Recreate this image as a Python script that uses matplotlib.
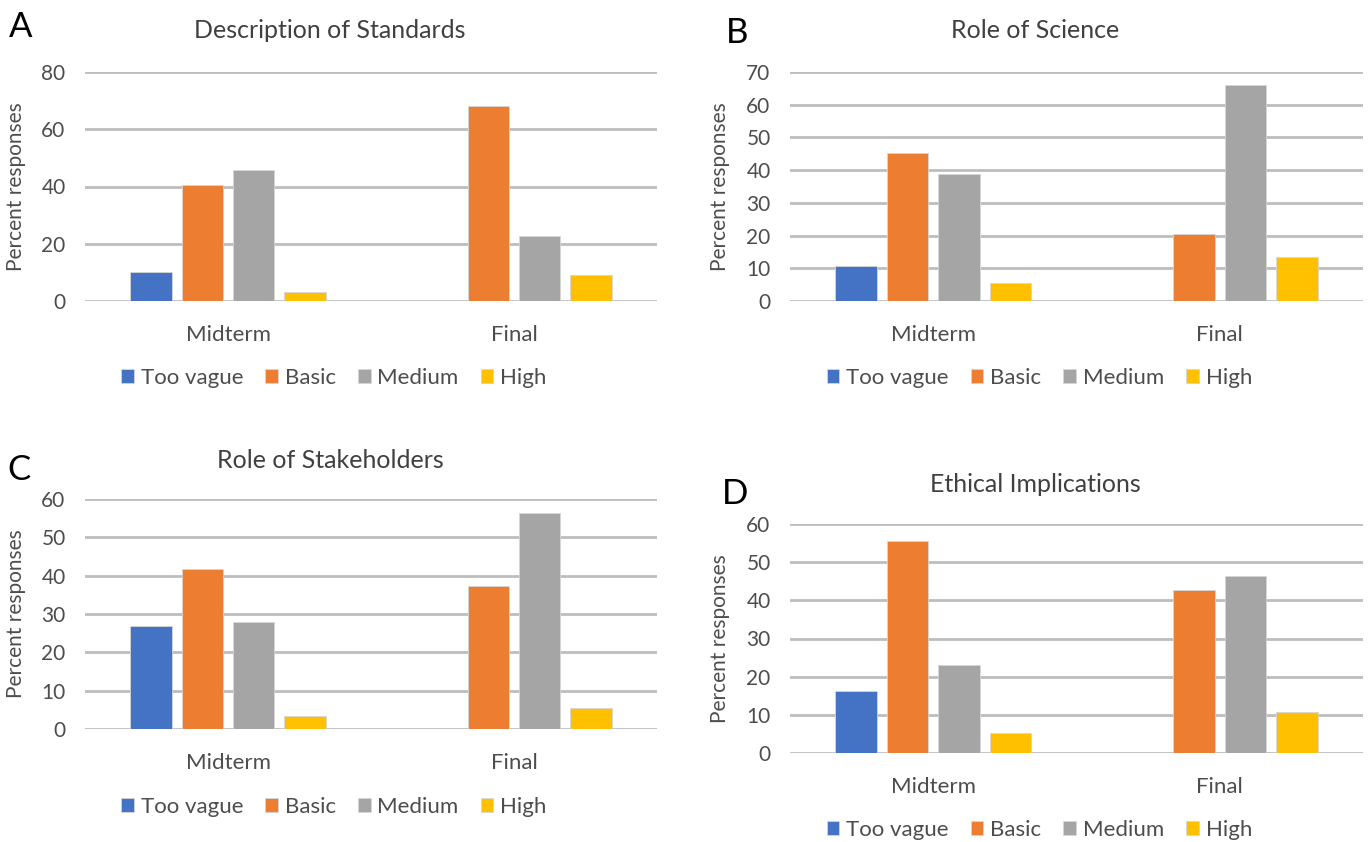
import matplotlib
matplotlib.use("Agg")
import matplotlib.pyplot as plt
import numpy as np

plt.rcParams['font.family'] = ['Lato', 'DejaVu Sans']

categories = ["Midterm", "Final"]
levels = ["Too vague", "Basic", "Medium", "High"]
colors = ["#4472C4", "#ED7D31", "#A5A5A5", "#FFC000"]

titles = ["Description of Standards", "Role of Science", "Role of Stakeholders", "Ethical Implications"]
letters = ["A", "B", "C", "D"]

# values per panel: rows = levels, columns = categories (Midterm, Final)
desc_standards = {"Too vague": [10.0, 0.0], "Basic": [40.5, 68.0], "Medium": [45.7, 22.6], "High": [3.2, 9.2]}
role_science = {"Too vague": [10.6, 0.0], "Basic": [45.2, 20.4], "Medium": [38.8, 66.1], "High": [5.4, 13.3]}
role_stakeholders = {"Too vague": [26.8, 0.0], "Basic": [41.8, 37.4], "Medium": [28.0, 56.3], "High": [3.5, 5.6]}
ethical = {"Too vague": [16.3, 0.0], "Basic": [55.6, 42.6], "Medium": [23.0, 46.5], "High": [5.2, 10.7]}

panels = [desc_standards, role_science, role_stakeholders, ethical]
ymax = [80, 70, 60, 60]
ystep = [20, 10, 10, 10]

W, H = 1372, 842
fig = plt.figure(figsize=(W / 100, H / 100), dpi=100)

def px_axes(x0, x1, ytop, ybot):
    return fig.add_axes([x0 / W, 1 - ybot / H, (x1 - x0) / W, (ybot - ytop) / H])

# axes boxes in pixel coords (x0, x1, ytop, ybot)
boxes = [(85, 657, 72, 301), (790, 1363, 72, 301), (85, 657, 499, 729), (790, 1363, 524, 753)]
title_pos = [(330, 30), (1035, 30), (330, 460), (1035, 484)]
letter_pos = [(21, 27), (737, 33), (19, 470), (735, 494)]
legend_y = [378, 378, 807, 830]

text_col = "#4d4d4d"
grid_col = "#bdbdbd"
bw = 0.145
step = 0.18
x = np.arange(len(categories))

for i, data in enumerate(panels):
    x0, x1, yt, yb = boxes[i]
    ax = px_axes(x0, x1, yt, yb)
    for j, lev in enumerate(levels):
        ax.bar(x + (j - 1.5) * step, data[lev], width=bw, color=colors[j],
               edgecolor="#d6d6d6", linewidth=0.6, label=lev, zorder=3)
    ax.set_xlim(-0.5, 1.5)
    ax.set_ylim(0, ymax[i])
    ax.set_yticks(np.arange(0, ymax[i] + 1, ystep[i]))
    ax.yaxis.grid(True, color=grid_col, linewidth=2.0, zorder=0)
    ax.set_axisbelow(True)
    for s in ["top", "right", "left", "bottom"]:
        ax.spines[s].set_visible(False)
    ax.set_xticks(x)
    ax.set_xticklabels(categories)
    ax.tick_params(axis="y", length=0, labelcolor=text_col, labelsize=15, pad=14)
    ax.tick_params(axis="x", length=0, labelcolor=text_col, labelsize=16, pad=17)
    ax.set_ylabel("Percent responses", fontsize=15, color=text_col)
    ax.yaxis.set_label_coords(-0.104, 0.5)
    leg_cy = (yb - legend_y[i]) / (yb - yt)
    ax.legend(loc="center", bbox_to_anchor=(0.435, leg_cy), ncol=4, frameon=False,
              fontsize=16, handlelength=0.57, handleheight=0.57, handletextpad=0.3,
              columnspacing=1.0, labelcolor=text_col, borderpad=0.2)
    tx, ty = title_pos[i]
    fig.text(tx / W, 1 - ty / H, titles[i], ha="center", va="center", fontsize=18, color="#404040")
    lx, ly = letter_pos[i]
    fig.text(lx / W, 1 - ly / H, letters[i], ha="center", va="center", fontsize=25, color="black")

fig.savefig("out.png", dpi=100)
